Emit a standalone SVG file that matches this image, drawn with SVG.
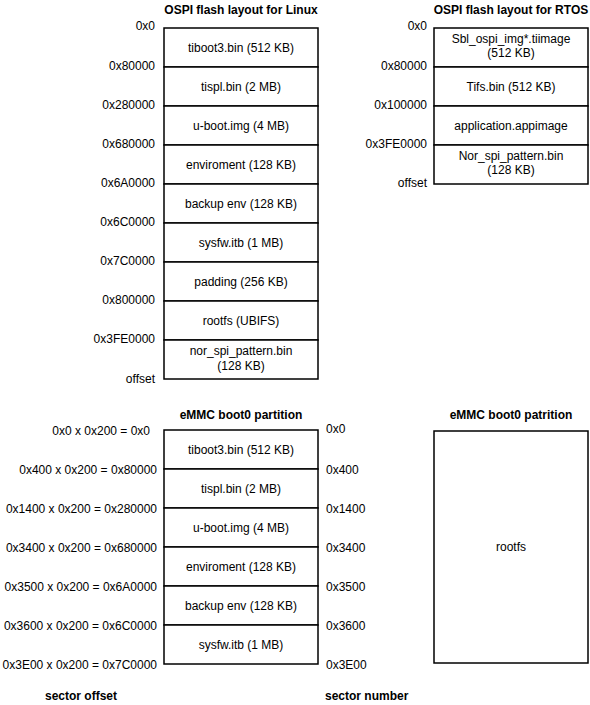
<svg xmlns="http://www.w3.org/2000/svg" width="590" height="705" viewBox="0 0 590 705">
<style>
text{font-family:"Liberation Sans",Arial,sans-serif;font-size:12px;fill:#000}
.t{font-weight:bold;text-anchor:middle}
.b{font-weight:bold}
.c{text-anchor:middle}
.e{text-anchor:end}
rect{fill:#fff;stroke:#000;stroke-width:1.5}
</style>
<rect x="0" y="0" width="590" height="705" style="stroke:none"/>
<g id="linux">
<text class="t" x="241" y="14">OSPI flash layout for Linux</text>
<g id="l1"><rect x="164" y="28" width="154" height="39"/><text class="c" x="241" y="51.5">tiboot3.bin (512 KB)</text></g>
<g id="l2"><rect x="164" y="67" width="154" height="39"/><text class="c" x="241" y="90.5">tispl.bin (2 MB)</text></g>
<g id="l3"><rect x="164" y="106" width="154" height="39"/><text class="c" x="241" y="129.5">u-boot.img (4 MB)</text></g>
<g id="l4"><rect x="164" y="145" width="154" height="39"/><text class="c" x="241" y="168.5">enviroment (128 KB)</text></g>
<g id="l5"><rect x="164" y="184" width="154" height="39"/><text class="c" x="241" y="207.5">backup env (128 KB)</text></g>
<g id="l6"><rect x="164" y="223" width="154" height="39"/><text class="c" x="241" y="246.5">sysfw.itb (1 MB)</text></g>
<g id="l7"><rect x="164" y="262" width="154" height="39"/><text class="c" x="241" y="285.5">padding (256 KB)</text></g>
<g id="l8"><rect x="164" y="301" width="154" height="39"/><text class="c" x="241" y="324.5">rootfs (UBIFS)</text></g>
<g id="l9"><rect x="164" y="340" width="154" height="39"/><text class="c" x="241" y="355">nor_spi_pattern.bin</text><text class="c" x="241" y="369.5">(128 KB)</text></g>
<text class="e" x="155" y="30">0x0</text>
<text class="e" x="155" y="70">0x80000</text>
<text class="e" x="155" y="109">0x280000</text>
<text class="e" x="155" y="148">0x680000</text>
<text class="e" x="155" y="187">0x6A0000</text>
<text class="e" x="155" y="226">0x6C0000</text>
<text class="e" x="155" y="265">0x7C0000</text>
<text class="e" x="155" y="304">0x800000</text>
<text class="e" x="155" y="343">0x3FE0000</text>
<text class="e" x="155" y="383">offset</text>
</g>
<g id="rtos">
<text class="t" x="511" y="14">OSPI flash layout for RTOS</text>
<g id="r1"><rect x="434" y="28" width="154" height="39"/><text class="c" x="511" y="42.5">Sbl_ospi_img*.tiimage</text><text class="c" x="511" y="57">(512 KB)</text></g>
<g id="r2"><rect x="434" y="67" width="154" height="39"/><text class="c" x="511" y="90.5">Tifs.bin (512 KB)</text></g>
<g id="r3"><rect x="434" y="106" width="154" height="39"/><text class="c" x="511" y="129.5">application.appimage</text></g>
<g id="r4"><rect x="434" y="145" width="154" height="39"/><text class="c" x="511" y="159.5">Nor_spi_pattern.bin</text><text class="c" x="511" y="174">(128 KB)</text></g>
<text class="e" x="427" y="30">0x0</text>
<text class="e" x="427" y="70">0x80000</text>
<text class="e" x="427" y="109">0x100000</text>
<text class="e" x="427" y="148">0x3FE0000</text>
<text class="e" x="427" y="187">offset</text>
</g>
<g id="emmc">
<text class="t" x="241" y="419">eMMC boot0 partition</text>
<g id="e1"><rect x="164" y="430" width="154" height="39"/><text class="c" x="241" y="453.5">tiboot3.bin (512 KB)</text></g>
<g id="e2"><rect x="164" y="469" width="154" height="39"/><text class="c" x="241" y="492.5">tispl.bin (2 MB)</text></g>
<g id="e3"><rect x="164" y="508" width="154" height="39"/><text class="c" x="241" y="531.5">u-boot.img (4 MB)</text></g>
<g id="e4"><rect x="164" y="547" width="154" height="39"/><text class="c" x="241" y="570.5">enviroment (128 KB)</text></g>
<g id="e5"><rect x="164" y="586" width="154" height="39"/><text class="c" x="241" y="609.5">backup env (128 KB)</text></g>
<g id="e6"><rect x="164" y="625" width="154" height="39"/><text class="c" x="241" y="648.5">sysfw.itb (1 MB)</text></g>
<text class="e" x="150" y="435">0x0 x 0x200 = 0x0</text>
<text class="e" x="157" y="474">0x400 x 0x200 = 0x80000</text>
<text class="e" x="157" y="513">0x1400 x 0x200 = 0x280000</text>
<text class="e" x="157" y="552">0x3400 x 0x200 = 0x680000</text>
<text class="e" x="157" y="591">0x3500 x 0x200 = 0x6A0000</text>
<text class="e" x="157" y="630">0x3600 x 0x200 = 0x6C0000</text>
<text class="e" x="157" y="669">0x3E00 x 0x200 = 0x7C0000</text>
<text x="326" y="433">0x0</text>
<text x="326" y="474">0x400</text>
<text x="326" y="513">0x1400</text>
<text x="326" y="552">0x3400</text>
<text x="326" y="591">0x3500</text>
<text x="326" y="630">0x3600</text>
<text x="326" y="669">0x3E00</text>
<text class="b" x="45" y="700">sector offset</text>
<text class="b" x="325" y="700">sector number</text>
</g>
<g id="emmc2">
<text class="t" x="511" y="419">eMMC boot0 patrition</text>
<g id="rootfs"><rect x="434" y="431" width="154" height="232"/><text class="c" x="511" y="551">rootfs</text></g>
</g>
<g id="connectors"></g>
</svg>
